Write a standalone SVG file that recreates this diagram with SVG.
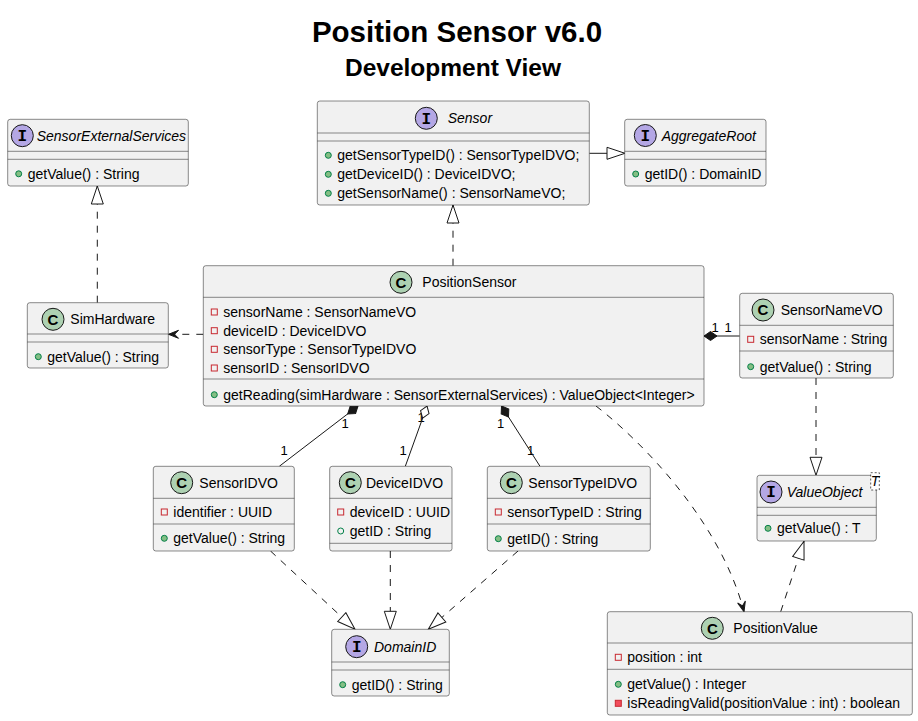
<svg xmlns="http://www.w3.org/2000/svg" width="918" height="721" viewBox="0 0 918 721">
<style>
.box{fill:#F1F1F1;stroke:#181818;stroke-width:0.5}
.sep{stroke:#181818;stroke-width:0.5}
.t{font-family:"Liberation Sans",Arial,sans-serif;font-size:14px;fill:#000}
.it{font-style:italic}
.ci{fill:#ADD1B2;stroke:#181818;stroke-width:1}
.ii{fill:#B4A7E5;stroke:#181818;stroke-width:1}
.cl{font-family:"Liberation Sans",Arial,sans-serif;font-weight:bold;font-size:15px;fill:#000}
.il{font-family:"Liberation Mono","DejaVu Sans Mono",monospace;font-weight:bold;font-size:16px;fill:#000}
.pf{fill:none;stroke:#C82930;stroke-width:1}
.pm{fill:#F24D5C;stroke:#C82930;stroke-width:1}
.uf{fill:none;stroke:#038048;stroke-width:1}
.um{fill:#84BE84;stroke:#038048;stroke-width:1}
.ln{fill:none;stroke:#181818;stroke-width:1}
.dl{fill:none;stroke:#181818;stroke-width:1;stroke-dasharray:7,7}
.lb{font-family:"Liberation Sans",Arial,sans-serif;font-size:13px;fill:#000}
.title{font-family:"Liberation Sans",Arial,sans-serif;font-weight:bold;fill:#000}
</style>
<defs>
<marker id="tri" viewBox="-19 -7 20 14" refX="0" refY="0" markerWidth="20" markerHeight="14" markerUnits="userSpaceOnUse" orient="auto">
<path d="M0,0 L-18,-6 L-18,6 Z" fill="#FFFFFF" stroke="#181818" stroke-width="1" stroke-dasharray="none"/>
</marker>
<marker id="dfill" viewBox="-1 -6 15 12" refX="0" refY="0" markerWidth="15" markerHeight="12" markerUnits="userSpaceOnUse" orient="auto">
<path d="M0,0 L6.5,-4.5 L13,0 L6.5,4.5 Z" fill="#181818" stroke="#181818" stroke-width="1" stroke-dasharray="none"/>
</marker>
<marker id="dopen" viewBox="-1 -6 15 12" refX="0" refY="0" markerWidth="15" markerHeight="12" markerUnits="userSpaceOnUse" orient="auto">
<path d="M0,0 L6.5,-4.5 L13,0 L6.5,4.5 Z" fill="#FFFFFF" stroke="#181818" stroke-width="1" stroke-dasharray="none"/>
</marker>
<marker id="arr" viewBox="-12 -6 13 12" refX="0" refY="0" markerWidth="13" markerHeight="12" markerUnits="userSpaceOnUse" orient="auto">
<path d="M0,0 L-10,-4 L-6,0 L-10,4 Z" fill="#181818" stroke="#181818" stroke-width="1" stroke-dasharray="none"/>
</marker>
</defs>
<rect width="918" height="721" fill="#FFFFFF"/>
<text class="title" x="457" y="42" font-size="29.5" text-anchor="middle">Position Sensor v6.0</text>
<text class="title" x="453" y="76" font-size="24.5" text-anchor="middle">Development View</text>

<g id="labels">
<text class="lb" x="345" y="428" text-anchor="middle">1</text>
<text class="lb" x="284" y="455" text-anchor="middle">1</text>
<text class="lb" x="421" y="422" text-anchor="middle">1</text>
<text class="lb" x="403" y="455" text-anchor="middle">1</text>
<text class="lb" x="500.7" y="428" text-anchor="middle">1</text>
<text class="lb" x="530.7" y="455" text-anchor="middle">1</text>
<text class="lb" x="715" y="332" text-anchor="middle">1</text>
<text class="lb" x="728" y="332" text-anchor="middle">1</text>
</g>

<g id="connectors">
<line class="ln" x1="589.3" y1="153.3" x2="625" y2="153.3" marker-end="url(#tri)"/>
<line class="dl" x1="453" y1="265.7" x2="453" y2="205" marker-end="url(#tri)"/>
<line class="dl" x1="97.3" y1="302.7" x2="97.3" y2="186" marker-end="url(#tri)"/>
<line class="dl" x1="203.3" y1="334.3" x2="168.5" y2="334.3" marker-end="url(#arr)"/>
<line class="ln" x1="704" y1="336" x2="739.7" y2="336" marker-start="url(#dfill)"/>
<line class="ln" x1="358" y1="406" x2="279.3" y2="466.3" marker-start="url(#dfill)"/>
<line class="ln" x1="427" y1="406" x2="405.3" y2="466.3" marker-start="url(#dopen)"/>
<line class="ln" x1="501.5" y1="406" x2="540" y2="466.3" marker-start="url(#dfill)"/>
<line class="dl" x1="816" y1="378" x2="816" y2="475.3" marker-end="url(#tri)"/>
<line class="dl" x1="780.7" y1="611.7" x2="804" y2="541.2" marker-end="url(#tri)"/>
<line class="dl" x1="390.3" y1="551" x2="390.3" y2="629.3" marker-end="url(#tri)"/>
<line class="dl" x1="270.5" y1="551" x2="355" y2="629.3" marker-end="url(#tri)"/>
<line class="dl" x1="518" y1="551" x2="428.3" y2="629.3" marker-end="url(#tri)"/>
<path class="dl" d="M596,406 C640,440 720,520 744,611.7" marker-end="url(#arr)"/>
</g>

<g id="SensorExternalServices">
<rect class="box" x="7.7" y="119.3" width="180.6" height="66.7" rx="2.5"/>
<line class="sep" x1="7.7" y1="151.3" x2="188.3" y2="151.3"/>
<line class="sep" x1="7.7" y1="159.3" x2="188.3" y2="159.3"/>
<circle class="ii" cx="22.3" cy="135.7" r="11"/>
<text class="il" x="22.3" y="141" text-anchor="middle">I</text>
<text class="t it" x="36.7" y="140.7">SensorExternalServices</text>
<circle class="um" cx="18.7" cy="173.8" r="3"/>
<text class="t" x="27.7" y="178.8">getValue() : String</text>
</g>

<g id="Sensor">
<rect class="box" x="317.3" y="101" width="272" height="104" rx="2.5"/>
<line class="sep" x1="317.3" y1="133" x2="589.3" y2="133"/>
<line class="sep" x1="317.3" y1="141" x2="589.3" y2="141"/>
<circle class="ii" cx="426.3" cy="118.3" r="11"/>
<text class="il" x="426.3" y="123.6" text-anchor="middle">I</text>
<text class="t it" x="447.7" y="123.3">Sensor</text>
<circle class="um" cx="328.3" cy="155.3" r="3"/>
<text class="t" x="337.3" y="160.3">getSensorTypeID() : SensorTypeIDVO;</text>
<circle class="um" cx="328.3" cy="174.3" r="3"/>
<text class="t" x="337.3" y="179.3">getDeviceID() : DeviceIDVO;</text>
<circle class="um" cx="328.3" cy="193.3" r="3"/>
<text class="t" x="337.3" y="198.3">getSensorName() : SensorNameVO;</text>
</g>

<g id="AggregateRoot">
<rect class="box" x="624.7" y="119.3" width="141.3" height="66.7" rx="2.5"/>
<line class="sep" x1="624.7" y1="151.3" x2="766" y2="151.3"/>
<line class="sep" x1="624.7" y1="159.3" x2="766" y2="159.3"/>
<circle class="ii" cx="645.3" cy="135.5" r="11"/>
<text class="il" x="645.3" y="140.8" text-anchor="middle">I</text>
<text class="t it" x="661.7" y="140.5">AggregateRoot</text>
<circle class="um" cx="635.7" cy="174" r="3"/>
<text class="t" x="644.7" y="179">getID() : DomainID</text>
</g>

<g id="PositionSensor">
<rect class="box" x="203.3" y="265.7" width="500.7" height="140.3" rx="2.5"/>
<line class="sep" x1="203.3" y1="297.3" x2="704" y2="297.3"/>
<line class="sep" x1="203.3" y1="379" x2="704" y2="379"/>
<circle class="ci" cx="401" cy="282.3" r="11"/>
<text class="cl" x="401" y="287.6" text-anchor="middle">C</text>
<text class="t" x="422.3" y="287.3">PositionSensor</text>
<rect class="pf" x="211.3" y="309" width="6" height="6"/>
<text class="t" x="223.3" y="317">sensorName : SensorNameVO</text>
<rect class="pf" x="211.3" y="327.7" width="6" height="6"/>
<text class="t" x="223.3" y="335.7">deviceID : DeviceIDVO</text>
<rect class="pf" x="211.3" y="346.3" width="6" height="6"/>
<text class="t" x="223.3" y="354.3">sensorType : SensorTypeIDVO</text>
<rect class="pf" x="211.3" y="365" width="6" height="6"/>
<text class="t" x="223.3" y="373">sensorID : SensorIDVO</text>
<circle class="um" cx="214.3" cy="394.7" r="3"/>
<text class="t" x="223.3" y="399.7">getReading(simHardware : SensorExternalServices) : ValueObject&lt;Integer&gt;</text>
</g>

<g id="SensorNameVO">
<rect class="box" x="739.7" y="293.3" width="153.6" height="84.7" rx="2.5"/>
<line class="sep" x1="739.7" y1="325.3" x2="893.3" y2="325.3"/>
<line class="sep" x1="739.7" y1="351" x2="893.3" y2="351"/>
<circle class="ci" cx="763" cy="310" r="11"/>
<text class="cl" x="763" y="315.3" text-anchor="middle">C</text>
<text class="t" x="780.7" y="315">SensorNameVO</text>
<rect class="pf" x="747.7" y="336.3" width="6" height="6"/>
<text class="t" x="759.7" y="344.3">sensorName : String</text>
<circle class="um" cx="750.7" cy="366.7" r="3"/>
<text class="t" x="759.7" y="371.7">getValue() : String</text>
</g>

<g id="SimHardware">
<rect class="box" x="27.3" y="302.7" width="141" height="65.3" rx="2.5"/>
<line class="sep" x1="27.3" y1="334" x2="168.3" y2="334"/>
<line class="sep" x1="27.3" y1="342" x2="168.3" y2="342"/>
<circle class="ci" cx="53" cy="319.3" r="11"/>
<text class="cl" x="53" y="324.6" text-anchor="middle">C</text>
<text class="t" x="70.3" y="324.3">SimHardware</text>
<circle class="um" cx="38.3" cy="356.7" r="3"/>
<text class="t" x="47.3" y="361.7">getValue() : String</text>
</g>

<g id="SensorIDVO">
<rect class="box" x="153.3" y="466.3" width="141" height="84.7" rx="2.5"/>
<line class="sep" x1="153.3" y1="498.3" x2="294.3" y2="498.3"/>
<line class="sep" x1="153.3" y1="524" x2="294.3" y2="524"/>
<circle class="ci" cx="181.7" cy="482.7" r="11"/>
<text class="cl" x="181.7" y="488" text-anchor="middle">C</text>
<text class="t" x="199.3" y="487.7">SensorIDVO</text>
<rect class="pf" x="161.3" y="509" width="6" height="6"/>
<text class="t" x="173.3" y="517">identifier : UUID</text>
<circle class="um" cx="164.3" cy="538.3" r="3"/>
<text class="t" x="173.3" y="543.3">getValue() : String</text>
</g>

<g id="DeviceIDVO">
<rect class="box" x="329.7" y="466.3" width="122.3" height="84.7" rx="2.5"/>
<line class="sep" x1="329.7" y1="498.3" x2="452" y2="498.3"/>
<line class="sep" x1="329.7" y1="543.3" x2="452" y2="543.3"/>
<circle class="ci" cx="350.3" cy="482.7" r="11"/>
<text class="cl" x="350.3" y="488" text-anchor="middle">C</text>
<text class="t" x="366" y="487.7">DeviceIDVO</text>
<rect class="pf" x="337.7" y="509" width="6" height="6"/>
<text class="t" x="349.7" y="517">deviceID : UUID</text>
<circle class="uf" cx="340.7" cy="531" r="3"/>
<text class="t" x="349.7" y="536">getID : String</text>
</g>

<g id="SensorTypeIDVO">
<rect class="box" x="487.3" y="466.3" width="163" height="84.7" rx="2.5"/>
<line class="sep" x1="487.3" y1="498.3" x2="650.3" y2="498.3"/>
<line class="sep" x1="487.3" y1="524" x2="650.3" y2="524"/>
<circle class="ci" cx="511.3" cy="482.7" r="11"/>
<text class="cl" x="511.3" y="488" text-anchor="middle">C</text>
<text class="t" x="528.3" y="487.7">SensorTypeIDVO</text>
<rect class="pf" x="495.3" y="509" width="6" height="6"/>
<text class="t" x="507.3" y="517">sensorTypeID : String</text>
<circle class="um" cx="498.3" cy="538.7" r="3"/>
<text class="t" x="507.3" y="543.7">getID() : String</text>
</g>

<g id="ValueObject">
<rect class="box" x="757" y="475.3" width="119.3" height="65.7" rx="2.5"/>
<line class="sep" x1="757" y1="507.3" x2="876.3" y2="507.3"/>
<line class="sep" x1="757" y1="515.3" x2="876.3" y2="515.3"/>
<circle class="ii" cx="771" cy="492" r="11"/>
<text class="il" x="771" y="497.3" text-anchor="middle">I</text>
<text class="t it" x="786.7" y="497">ValueObject</text>
<circle class="um" cx="768" cy="528.3" r="3"/>
<text class="t" x="777" y="533.3">getValue() : T</text>
<rect x="870.7" y="472.7" width="8.6" height="17.3" fill="#FFFFFF" stroke="#181818" stroke-width="0.7" stroke-dasharray="2,2"/>
<text class="t it" x="875" y="486" font-size="12" text-anchor="middle">T</text>
</g>

<g id="DomainID">
<rect class="box" x="331.7" y="629.3" width="117.6" height="66.7" rx="2.5"/>
<line class="sep" x1="331.7" y1="662" x2="449.3" y2="662"/>
<line class="sep" x1="331.7" y1="670" x2="449.3" y2="670"/>
<circle class="ii" cx="356.7" cy="646.7" r="11"/>
<text class="il" x="356.7" y="652" text-anchor="middle">I</text>
<text class="t it" x="374" y="651.7">DomainID</text>
<circle class="um" cx="342.7" cy="684.7" r="3"/>
<text class="t" x="351.7" y="689.7">getID() : String</text>
</g>

<g id="PositionValue">
<rect class="box" x="607.3" y="611.7" width="305" height="103.3" rx="2.5"/>
<line class="sep" x1="607.3" y1="643" x2="912.3" y2="643"/>
<line class="sep" x1="607.3" y1="669.3" x2="912.3" y2="669.3"/>
<circle class="ci" cx="712.3" cy="628.3" r="11"/>
<text class="cl" x="712.3" y="633.6" text-anchor="middle">C</text>
<text class="t" x="733.3" y="633.3">PositionValue</text>
<rect class="pf" x="615.3" y="654.3" width="6" height="6"/>
<text class="t" x="627.3" y="662.3">position : int</text>
<circle class="um" cx="618.3" cy="684.3" r="3"/>
<text class="t" x="627.3" y="689.3">getValue() : Integer</text>
<rect class="pm" x="615.3" y="700.3" width="6" height="6"/>
<text class="t" x="627.3" y="708.3">isReadingValid(positionValue : int) : boolean</text>
</g>
</svg>
